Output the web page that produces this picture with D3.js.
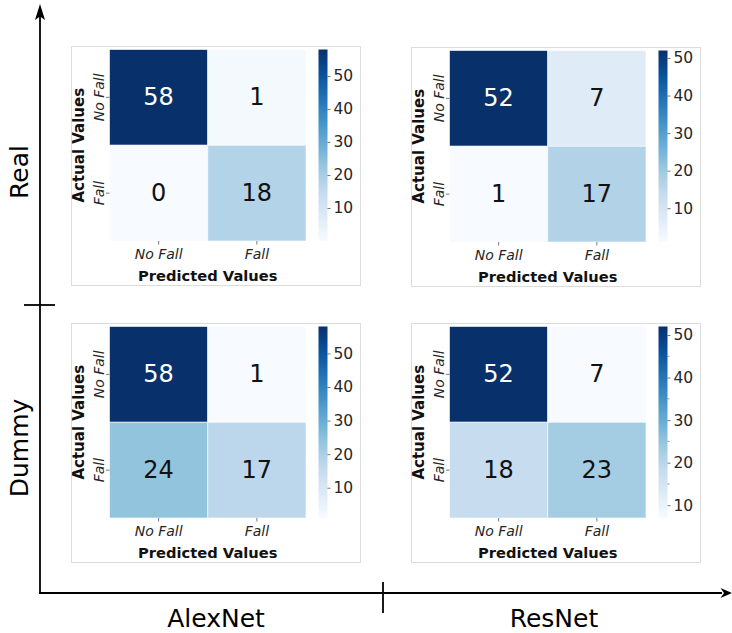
<!DOCTYPE html>
<html>
<head>
<meta charset="utf-8">
<script src="https://cdn.jsdelivr.net/npm/d3@7"></script>
<style>
  html, body { margin: 0; padding: 0; background: #ffffff; }
  svg { display: block; }
  text { font-family: "DejaVu Sans", sans-serif; }
</style>
</head>
<body>
<svg id="chart" width="732" height="633"></svg>
<script>
// Class labels shared by all confusion matrices
const classes = ["No Fall", "Fall"];
const models = ["AlexNet", "ResNet"];
const datasets = ["Real", "Dummy"];

// Confusion matrices: rows = actual, columns = predicted
const realAlexNet = [[58, 1], [0, 18]];
const realResNet = [[52, 7], [1, 17]];
const dummyAlexNet = [[58, 1], [24, 17]];
const dummyResNet = [[52, 7], [18, 23]];

// Colorbar tick labels
const colorbarTicks = [10, 20, 30, 40, 50];
const resnetDummyMinorTicks = [15, 25, 35, 45];

// Matplotlib "Blues" stops
const bluesStops = ["#f7fbff", "#deebf7", "#c6dbef", "#9ecae1", "#6baed6",
                    "#4292c6", "#2171b5", "#08519c", "#08306b"];

const panels = [
  { matrix: realAlexNet,  fx: 71,  fy: 46,  minor: [] },
  { matrix: realResNet,   fx: 411, fy: 47,  minor: [] },
  { matrix: dummyAlexNet, fx: 71,  fy: 323, minor: [] },
  { matrix: dummyResNet,  fx: 411, fy: 323, minor: resnetDummyMinorTicks }
];

const svg = d3.select("#chart");

const frameW = 289, frameH = 239;
const cellX = 38.5, cellY = 3.5, gridW = 196.5, gridH = 191.5;
const cbX = 247.5, cbW = 9;

panels.forEach((p, pi) => {
  const g = svg.append("g").attr("transform", `translate(${p.fx},${p.fy})`);
  const values = p.matrix.flat();
  const vmin = d3.min(values), vmax = d3.max(values);

  const t = d3.scaleLinear().domain([vmin, vmax]).range([0, bluesStops.length - 1]);
  const stopScale = d3.scaleLinear()
    .domain(d3.range(bluesStops.length))
    .range(bluesStops)
    .interpolate(d3.interpolateRgb);
  const color = v => stopScale(t(v));

  // panel frame
  g.append("rect")
    .attr("x", 0.5).attr("y", 0.5)
    .attr("width", frameW).attr("height", frameH)
    .attr("fill", "#ffffff")
    .attr("stroke", "#dcdcdc").attr("stroke-width", 1);

  const x = d3.scaleBand().domain(classes).range([cellX, cellX + gridW]);
  const y = d3.scaleBand().domain(classes).range([cellY, cellY + gridH]);

  const cells = [];
  classes.forEach((actual, r) => classes.forEach((pred, c) => {
    cells.push({ actual, pred, v: p.matrix[r][c] });
  }));

  g.selectAll("rect.cell").data(cells).enter().append("rect")
    .attr("class", "cell")
    .attr("x", d => x(d.pred)).attr("y", d => y(d.actual))
    .attr("width", x.bandwidth()).attr("height", y.bandwidth())
    .attr("fill", d => color(d.v))
    .attr("stroke", "#ffffff").attr("stroke-opacity", 0.6).attr("stroke-width", 1);

  g.selectAll("text.val").data(cells).enter().append("text")
    .attr("class", "val")
    .attr("x", d => x(d.pred) + x.bandwidth() / 2)
    .attr("y", d => y(d.actual) + y.bandwidth() / 2)
    .attr("text-anchor", "middle").attr("dominant-baseline", "central")
    .attr("font-size", 24)
    .attr("fill", d => (t(d.v) / (bluesStops.length - 1)) > 0.5 ? "#ffffff" : "#111111")
    .text(d => d.v);

  // x tick marks and labels
  classes.forEach(cl => {
    const cx = x(cl) + x.bandwidth() / 2;
    g.append("line").attr("x1", cx).attr("x2", cx)
      .attr("y1", cellY + gridH).attr("y2", cellY + gridH + 3.5)
      .attr("stroke", "#555").attr("stroke-width", 0.8);
    g.append("text").attr("x", cx).attr("y", 208)
      .attr("text-anchor", "middle").attr("dominant-baseline", "central")
      .attr("font-size", 14).attr("font-style", "italic").attr("fill", "#262626")
      .text(cl);
  });

  // y tick marks and labels (rotated)
  classes.forEach(cl => {
    const cy = y(cl) + y.bandwidth() / 2;
    g.append("line").attr("x1", cellX - 3.5).attr("x2", cellX)
      .attr("y1", cy).attr("y2", cy)
      .attr("stroke", "#555").attr("stroke-width", 0.8);
    g.append("text")
      .attr("transform", `translate(${cellX - 11},${cy}) rotate(-90)`)
      .attr("text-anchor", "middle").attr("dominant-baseline", "central")
      .attr("font-size", 14).attr("font-style", "italic").attr("fill", "#262626")
      .text(cl);
  });

  // axis titles
  g.append("text")
    .attr("x", cellX + gridW / 2).attr("y", 229.7)
    .attr("text-anchor", "middle").attr("dominant-baseline", "central")
    .attr("font-size", 14.7).attr("font-weight", "bold").attr("fill", "#111")
    .text("Predicted Values");
  g.append("text")
    .attr("transform", `translate(${7.5},${cellY + gridH / 2}) rotate(-90)`)
    .attr("text-anchor", "middle").attr("dominant-baseline", "central")
    .attr("font-size", 15).attr("font-weight", "bold").attr("fill", "#111")
    .text("Actual Values");

  // colorbar
  const gradId = "cbgrad" + pi;
  const grad = svg.append("defs").append("linearGradient")
    .attr("id", gradId).attr("x1", 0).attr("y1", 1).attr("x2", 0).attr("y2", 0);
  d3.range(0, 1.0001, 0.05).forEach(f => {
    grad.append("stop").attr("offset", f).attr("stop-color", stopScale(f * (bluesStops.length - 1)));
  });
  g.append("rect")
    .attr("x", cbX).attr("y", cellY).attr("width", cbW).attr("height", gridH)
    .attr("fill", `url(#${gradId})`);

  const cbScale = d3.scaleLinear().domain([vmin, vmax]).range([cellY + gridH, cellY]);
  const cbAxis = g.append("g")
    .attr("transform", `translate(${cbX + cbW},0)`)
    .call(d3.axisRight(cbScale).tickValues(colorbarTicks).tickSize(3).tickPadding(3));
  cbAxis.select(".domain").remove();
  cbAxis.selectAll(".tick line").attr("stroke", "#555").attr("stroke-width", 0.8);
  cbAxis.selectAll(".tick text")
    .attr("font-size", 15.5).attr("fill", "#262626")
    .attr("font-family", "DejaVu Sans, sans-serif");
  p.minor.forEach(v => {
    g.append("line")
      .attr("x1", cbX + cbW).attr("x2", cbX + cbW + 2)
      .attr("y1", cbScale(v)).attr("y2", cbScale(v))
      .attr("stroke", "#777").attr("stroke-width", 0.8);
  });
});

// Outer grid axes: datasets on the vertical axis, models on the horizontal axis
const axisStroke = 1.8;
svg.append("line").attr("x1", 40).attr("x2", 40).attr("y1", 594).attr("y2", 14)
  .attr("stroke", "#000").attr("stroke-width", axisStroke);
svg.append("line").attr("x1", 39).attr("x2", 722).attr("y1", 593).attr("y2", 593)
  .attr("stroke", "#000").attr("stroke-width", axisStroke);

// arrow heads
svg.append("path").attr("d", "M40,4 L45,20 L40,16.5 L35,20 Z").attr("fill", "#000");
svg.append("path").attr("d", "M732,593 L720.5,598 L724,593 L720.5,588 Z").attr("fill", "#000");

// separators between panel groups
svg.append("line").attr("x1", 24).attr("x2", 55).attr("y1", 305).attr("y2", 305)
  .attr("stroke", "#000").attr("stroke-width", axisStroke);
svg.append("line").attr("x1", 383).attr("x2", 383).attr("y1", 582).attr("y2", 613)
  .attr("stroke", "#000").attr("stroke-width", axisStroke);

const datasetCenters = { Real: 172, Dummy: 448 };
datasets.forEach(ds => {
  svg.append("text")
    .attr("transform", `translate(19,${datasetCenters[ds]}) rotate(-90)`)
    .attr("text-anchor", "middle").attr("dominant-baseline", "central")
    .attr("font-size", 25).attr("fill", "#000")
    .text(ds);
});
const modelCenters = { AlexNet: 216, ResNet: 554 };
models.forEach(m => {
  svg.append("text")
    .attr("x", modelCenters[m]).attr("y", 618)
    .attr("text-anchor", "middle").attr("dominant-baseline", "central")
    .attr("font-size", 25).attr("fill", "#000")
    .text(m);
});
</script>
</body>
</html>
